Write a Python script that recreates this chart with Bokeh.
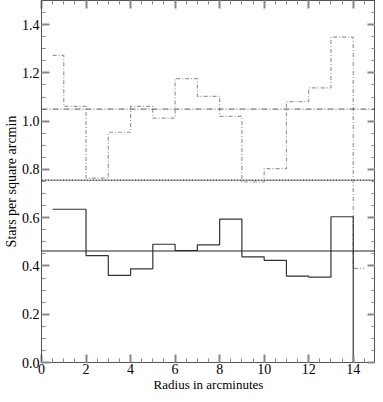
from bokeh.plotting import figure
from bokeh.models import (Range1d, SingleIntervalTicker, LinearAxis, PrintfTickFormatter,
                          Span, CustomJSTickFormatter)
from bokeh.embed import file_html
from bokeh.resources import INLINE

# Bin centres (arcmin) and densities (stars per square arcmin)
radius = [0.5, 1.5, 2.5, 3.5, 4.5, 5.5, 6.5, 7.5, 8.5, 9.5, 10.5, 11.5, 12.5, 13.5, 14.5]
upper_density = [1.273, 1.061, 0.764, 0.954, 1.061, 1.013, 1.176, 1.103, 1.020,
                 0.748, 0.803, 1.081, 1.138, 1.348, 0.39]
lower_density = [0.635, 0.635, 0.443, 0.361, 0.388, 0.490, 0.464, 0.487, 0.594,
                 0.438, 0.423, 0.358, 0.354, 0.604, 0.0]
upper_mean = 1.050
middle_level = 0.755
lower_mean = 0.462

FONT = "Liberation Serif"

p = figure(width=375, height=394, x_range=Range1d(0, 15), y_range=Range1d(0, 1.5),
           output_backend="svg", toolbar_location=None,
           min_border_left=30, min_border_right=0, min_border_top=0, min_border_bottom=30,
           x_axis_label="Radius in arcminutes", y_axis_label="Stars per square arcmin")
p.xgrid.visible = False
p.ygrid.visible = False
p.outline_line_color = "#555555"
p.background_fill_color = "white"
p.border_fill_color = "white"

xt = SingleIntervalTicker(interval=2, num_minor_ticks=4)
yt = SingleIntervalTicker(interval=0.2, num_minor_ticks=4)

def style(ax, ticker, labels=True):
    ax.ticker = ticker
    ax.axis_line_color = "#555555"
    ax.major_tick_line_color = "#888888"
    ax.minor_tick_line_color = "#888888"
    ax.major_tick_in = 8
    ax.major_tick_out = 0
    ax.minor_tick_in = 4
    ax.minor_tick_out = 0
    ax.major_tick_line_width = 2
    if labels:
        ax.major_label_text_font = FONT
        ax.major_label_text_font_size = "15px"
        ax.major_label_text_color = "black"
        ax.axis_label_text_font = FONT
        ax.axis_label_text_font_size = "14px"
        ax.axis_label_text_font_style = "normal"
        ax.axis_label_text_color = "black"
        ax.major_label_standoff = 4
        ax.axis_label_standoff = 2
    else:
        ax.formatter = CustomJSTickFormatter(code="return ''")
        ax.major_label_text_color = None
        ax.major_label_text_font_size = "1px"
        ax.major_label_standoff = 0
        ax.axis_label_standoff = 0
        ax.axis_label_text_font_size = "1px"
        ax.major_label_orientation = "parallel"

style(p.xaxis[0], xt)
style(p.yaxis[0], yt)
p.yaxis[0].formatter = PrintfTickFormatter(format="%.1f")
p.yaxis[0].major_label_standoff = 2
p.yaxis[0].axis_label_standoff = 0
p.yaxis[0].major_label_text_font_size = "14px"
p.xaxis[0].major_label_standoff = 1
p.xaxis[0].axis_label_standoff = 0
p.xaxis[0].major_label_text_font_size = "14px"
p.xaxis[0].axis_label_text_font_size = "13px"

top = LinearAxis()
style(top, SingleIntervalTicker(interval=2, num_minor_ticks=4), labels=False)
p.add_layout(top, "above")
right = LinearAxis()
style(right, SingleIntervalTicker(interval=0.2, num_minor_ticks=4), labels=False)
p.add_layout(right, "right")

p.step(radius, upper_density, mode="center", line_color="#999999", line_width=1.2,
       line_dash="4 2 1 2")
p.step(radius, lower_density, mode="center", line_color="#333333", line_width=1.2)

p.add_layout(Span(location=upper_mean, dimension="width", line_color="#555555",
                  line_width=1, line_dash="6 2 1 2"))
p.add_layout(Span(location=middle_level, dimension="width", line_color="#555555",
                  line_width=1.6, line_dash="2 1"))
p.add_layout(Span(location=lower_mean, dimension="width", line_color="#222222",
                  line_width=1))

open("out.html", "w").write(file_html(p, INLINE))
